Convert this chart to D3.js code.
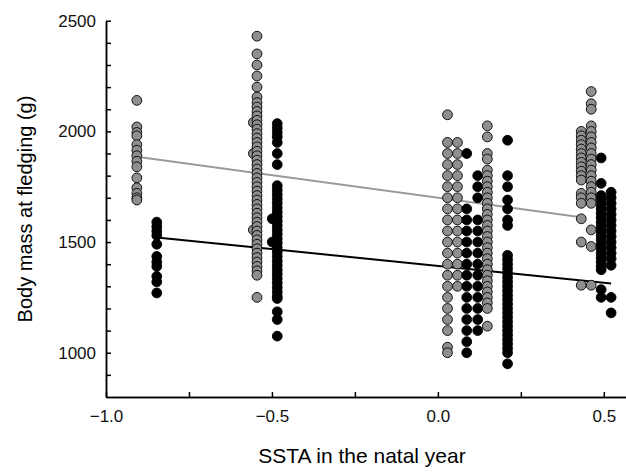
<!DOCTYPE html>
<meta charset="utf-8">
<script src="https://cdn.jsdelivr.net/npm/d3@7"></script>
<style>
  body { margin: 0; background: #fff; }
  text { font-family: "Liberation Sans", Arial, sans-serif; }
</style>

<div id="js_chart"></div>

<script>
// ---- data ----
const xMajor = [-1.0, -0.5, 0.0, 0.5];
const xMinor = [-0.75, -0.25, 0.25];
const yMajor = [1000, 1500, 2000, 2500];
const yMinor = [900, 1100, 1200, 1300, 1400, 1600, 1700, 1800, 1900, 2100, 2200, 2300, 2400];

// column SSTA values, colour group, and the masses in each column
const colX     = [-0.907, -0.847, -0.556, -0.545, -0.499, -0.484, 0.029, 0.059, 0.087, 0.12, 0.149, 0.21, 0.432, 0.462, 0.492, 0.522];
const colGroup = ["gray", "black", "gray", "gray", "black", "black", "gray", "gray", "black", "black", "gray", "black", "gray", "gray", "black", "black"];
const colMass = [
  [2140, 2020, 1995, 1980, 1940, 1915, 1890, 1865, 1840, 1790, 1745, 1720, 1700, 1690],
  [1590, 1570, 1550, 1530, 1490, 1435, 1410, 1390, 1345, 1320, 1270],
  [2040, 1900, 1555],
  [2430, 2350, 2300, 2250, 2200, 2155, 2130, 2110, 2090, 2070, 2050, 2030, 2010, 1990, 1970, 1950, 1930, 1910, 1890, 1870, 1850, 1830, 1810, 1790, 1770, 1750, 1730, 1710, 1690, 1670, 1650, 1630, 1610, 1590, 1570, 1550, 1530, 1510, 1490, 1470, 1450, 1430, 1410, 1390, 1370, 1350, 1250],
  [1605, 1500],
  [2035, 2015, 1995, 1975, 1950, 1900, 1850, 1755, 1735, 1715, 1695, 1675, 1655, 1635, 1615, 1595, 1575, 1555, 1535, 1515, 1495, 1475, 1455, 1435, 1415, 1395, 1375, 1355, 1335, 1315, 1295, 1275, 1255, 1245, 1185, 1150, 1075],
  [2075, 1950, 1900, 1850, 1800, 1750, 1700, 1650, 1600, 1550, 1500, 1450, 1400, 1350, 1300, 1250, 1200, 1150, 1100, 1025, 1000],
  [1950, 1900, 1850, 1800, 1750, 1700, 1650, 1600, 1550, 1500, 1450, 1400, 1350, 1300],
  [1900, 1650, 1600, 1550, 1500, 1450, 1400, 1350, 1300, 1250, 1200, 1150, 1100, 1050, 1000],
  [1800, 1750, 1700, 1600, 1550, 1500, 1450, 1400, 1350, 1300, 1250, 1200, 1150, 1100],
  [2025, 1975, 1900, 1875, 1825, 1800, 1775, 1750, 1725, 1700, 1675, 1650, 1625, 1600, 1575, 1550, 1525, 1500, 1475, 1450, 1425, 1400, 1375, 1350, 1325, 1300, 1275, 1250, 1225, 1200, 1120],
  [1960, 1800, 1750, 1690, 1650, 1600, 1575, 1440, 1420, 1400, 1380, 1360, 1340, 1320, 1300, 1280, 1260, 1240, 1220, 1200, 1180, 1160, 1140, 1120, 1100, 1080, 1060, 1040, 1020, 1000, 950],
  [2000, 1980, 1960, 1940, 1920, 1900, 1880, 1860, 1840, 1820, 1800, 1780, 1720, 1700, 1675, 1605, 1500, 1305],
  [2180, 2125, 2100, 2025, 2000, 1975, 1950, 1925, 1900, 1875, 1850, 1825, 1800, 1775, 1750, 1725, 1700, 1675, 1555, 1480, 1305],
  [1880, 1765, 1710, 1690, 1670, 1650, 1630, 1610, 1590, 1570, 1550, 1530, 1510, 1490, 1470, 1450, 1430, 1410, 1390, 1375, 1285, 1250],
  [1725, 1700, 1675, 1650, 1625, 1600, 1575, 1550, 1525, 1500, 1475, 1450, 1425, 1395, 1250, 1180]
];

// fitted lines (end points)
const grayLineX = [-0.907, 0.432];
const grayLineY = [1885, 1612];
const blackLineX = [-0.847, 0.522];
const blackLineY = [1521, 1313];

// ******************************************
const width = 626, height = 474;
const fill = { gray: "#8f8f8f", black: "#000" };

const svg = d3.select("#js_chart").append("svg")
    .attr("width", width)
    .attr("height", height);

const x = d3.scaleLinear().domain([-1.0, 0.6]).range([106, 637]);
const y = d3.scaleLinear().domain([800, 2500]).range([397, 20.7]);

// axes: ticks point inwards
function styleAxis(g) {
    g.selectAll("path, line").attr("stroke", "#000").attr("stroke-width", 1.5);
    g.selectAll("text").attr("font-size", 17).attr("fill", "#111")
        .style("font-family", '"Liberation Sans", Arial, sans-serif');
}

svg.append("g").attr("transform", "translate(0,397)")
    .call(d3.axisBottom(x).tickValues(xMinor).tickSizeInner(-5).tickSizeOuter(0).tickFormat(""))
    .call(styleAxis);
svg.append("g").attr("transform", "translate(0,397)")
    .call(d3.axisBottom(x).tickValues(xMajor).tickSizeInner(-5).tickSizeOuter(0).tickPadding(13).tickFormat(d3.format(".1f")))
    .call(styleAxis);

svg.append("g").attr("transform", "translate(106,0)")
    .call(d3.axisLeft(y).tickValues(yMinor).tickSizeInner(-5).tickSizeOuter(0).tickFormat(""))
    .call(styleAxis);
svg.append("g").attr("transform", "translate(106,0)")
    .call(d3.axisLeft(y).tickValues(yMajor).tickSizeInner(-5).tickSizeOuter(0).tickPadding(10).tickFormat(d3.format("d")))
    .call(styleAxis);

// regression lines
const line = d3.line().x(d => x(d[0])).y(d => y(d[1]));
svg.append("path").datum(d3.zip(grayLineX, grayLineY))
    .attr("d", line).attr("fill", "none").attr("stroke", "#9a9a9a").attr("stroke-width", 2);
svg.append("path").datum(d3.zip(blackLineX, blackLineY))
    .attr("d", line).attr("fill", "none").attr("stroke", "#000").attr("stroke-width", 2);

// points, drawn column by column from left to right
const pts = [];
colX.forEach((cx, i) => colMass[i].forEach(m => pts.push({ x: cx, m: m, g: colGroup[i] })));

svg.append("g").selectAll("circle")
    .data(pts)
    .enter().append("circle")
    .attr("cx", d => x(d.x))
    .attr("cy", d => y(d.m))
    .attr("r", 4.9)
    .attr("fill", d => fill[d.g])
    .attr("stroke", "#000")
    .attr("stroke-width", 0.9);

// titles
svg.append("text")
    .attr("transform", "translate(32,209) rotate(-90)")
    .attr("text-anchor", "middle")
    .attr("font-size", 20)
    .text("Body mass at fledging (g)");

svg.append("text")
    .attr("x", 362).attr("y", 463)
    .attr("text-anchor", "middle")
    .attr("font-size", 21)
    .text("SSTA in the natal year");
</script>
